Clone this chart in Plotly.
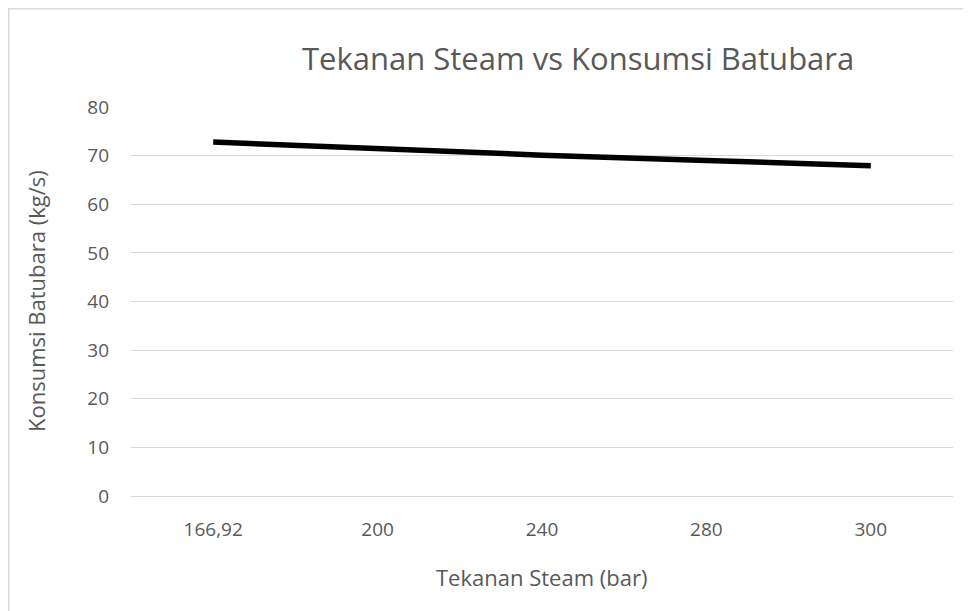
import plotly.graph_objects as go

categories = ["166,92", "200", "240", "280", "300"]
konsumsi = [72.8, 71.4, 70.1, 69.0, 67.9]
y_ticks = [0, 10, 20, 30, 40, 50, 60, 70, 80]

W, H = 971, 611
L, R, T, B = 123, 26, 99, 123
pw = W - L - R
ph = H - T - B


def px(fx):
    return (fx - L) / pw


def py(fy):
    return (H - fy - B) / ph


fig = go.Figure()
fig.add_trace(go.Scatter(
    x=categories, y=konsumsi, mode="lines",
    line=dict(color="#000000", width=5.5),
    showlegend=False, hoverinfo="skip",
))

font_fam = "Open Sans, Noto Sans, sans-serif"
grey = "#595959"

fig.update_layout(
    width=W, height=H,
    margin=dict(l=L, r=R, t=T, b=B),
    paper_bgcolor="white", plot_bgcolor="white",
    font=dict(family=font_fam, color=grey, size=19),
    xaxis=dict(
        type="category", range=[-0.5, 4.5],
        showgrid=False, zeroline=False,
        showline=True, linecolor="#d9d9d9", linewidth=1,
        ticks="", tickfont=dict(size=19, color=grey),
        ticklabelstandoff=16,
    ),
    yaxis=dict(
        range=[0, 80], tickvals=y_ticks,
        showgrid=True, gridcolor="#d9d9d9", gridwidth=1,
        zeroline=False, showline=False, ticks="",
        tickfont=dict(size=19, color=grey),
        ticklabelstandoff=21,
    ),
    shapes=[dict(
        type="rect", xref="paper", yref="paper",
        x0=px(0.75), x1=px(990),
        y0=py(640), y1=py(0.75),
        line=dict(color="#d9d9d9", width=1.5), fillcolor="rgba(0,0,0,0)",
        layer="below",
    )],
    annotations=[
        dict(
            text="Tekanan Steam vs Konsumsi Batubara",
            xref="paper", yref="paper", x=px(570), y=py(50),
            xanchor="center", yanchor="middle", showarrow=False,
            font=dict(size=31, color=grey, family=font_fam),
        ),
        dict(
            text="Tekanan Steam (bar)",
            xref="paper", yref="paper", x=px(533), y=py(569),
            xanchor="center", yanchor="middle", showarrow=False,
            font=dict(size=22, color=grey, family=font_fam),
        ),
        dict(
            text="Konsumsi Batubara (kg/s)",
            xref="paper", yref="paper", x=px(28), y=py(293),
            xanchor="center", yanchor="middle", showarrow=False, textangle=-90,
            font=dict(size=22, color=grey, family=font_fam),
        ),
    ],
)

fig.write_html("out.html")
